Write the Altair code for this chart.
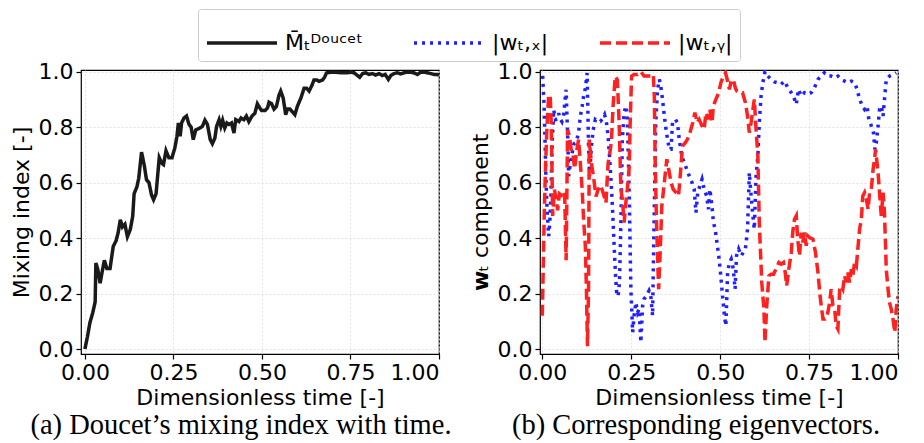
import altair as alt
import pandas as pd

# ---------------- data ----------------
t_doucet = [0.0, 0.0075, 0.014, 0.022, 0.029, 0.031, 0.036, 0.043, 0.049, 0.055, 0.062, 0.071,
            0.080, 0.088, 0.094, 0.100, 0.106, 0.113, 0.120, 0.128, 0.135, 0.139, 0.147, 0.152,
            0.160, 0.168, 0.174, 0.181, 0.188, 0.194, 0.201, 0.210, 0.217, 0.222, 0.229, 0.237,
            0.246, 0.254, 0.260, 0.264, 0.269, 0.273, 0.280, 0.287, 0.294, 0.300, 0.306, 0.313,
            0.325, 0.332, 0.339, 0.346, 0.354, 0.360, 0.367, 0.372, 0.379, 0.384, 0.389, 0.395,
            0.401, 0.407, 0.414, 0.421, 0.426, 0.435, 0.441, 0.449, 0.456, 0.463, 0.472, 0.480,
            0.487, 0.494, 0.499, 0.509, 0.516, 0.520, 0.527, 0.534, 0.541, 0.548, 0.553, 0.560,
            0.567, 0.572, 0.579, 0.586, 0.593, 0.600, 0.610, 0.619, 0.626, 0.633, 0.641, 0.647,
            0.655, 0.661, 0.671, 0.677, 0.682, 0.694, 0.708, 0.723, 0.732, 0.741, 0.751, 0.760,
            0.769, 0.776, 0.784, 0.793, 0.802, 0.812, 0.821, 0.831, 0.840, 0.848, 0.857, 0.864,
            0.873, 0.882, 0.892, 0.901, 0.910, 0.920, 0.929, 0.939, 0.948, 0.958, 0.967, 0.977,
            0.986, 0.995, 1.0]
m_doucet = [0.0, 0.046, 0.094, 0.13, 0.17, 0.31, 0.29, 0.237, 0.28, 0.32, 0.29, 0.29,
            0.37, 0.39, 0.42, 0.466, 0.44, 0.45, 0.405, 0.43, 0.478, 0.56, 0.585, 0.615,
            0.71, 0.66, 0.61, 0.60, 0.556, 0.538, 0.56, 0.69, 0.67, 0.665, 0.715, 0.69,
            0.69, 0.725, 0.767, 0.815, 0.767, 0.815, 0.833, 0.84, 0.81, 0.80, 0.755, 0.79,
            0.797, 0.803, 0.825, 0.81, 0.755, 0.74, 0.76, 0.803, 0.827, 0.803, 0.825, 0.797,
            0.815, 0.81, 0.815, 0.779, 0.827, 0.82, 0.833, 0.827, 0.84, 0.82, 0.84, 0.85,
            0.884, 0.869, 0.86, 0.86, 0.87, 0.89, 0.885, 0.865, 0.875, 0.915, 0.93, 0.905,
            0.845, 0.865, 0.865, 0.855, 0.845, 0.875, 0.905, 0.94, 0.94, 0.93, 0.95, 0.97,
            0.97, 0.965, 0.97, 0.98, 0.995, 0.998, 0.998, 0.996, 0.996, 0.996, 0.998, 0.996,
            0.987, 0.98, 0.993, 0.996, 0.99, 0.993, 0.988, 0.993, 0.986, 0.99, 0.972, 0.986,
            0.993, 0.996, 0.992, 0.996, 0.998, 0.998, 0.996, 0.99, 0.998, 0.998, 0.996, 0.993,
            0.99, 0.99, 0.987]

t_wx = [0.001, 0.005, 0.008, 0.010, 0.013, 0.016, 0.018, 0.021, 0.024, 0.028, 0.032, 0.037,
        0.042, 0.046, 0.050, 0.055, 0.060, 0.064, 0.067, 0.069, 0.072, 0.074, 0.079, 0.084,
        0.089, 0.093, 0.098, 0.102, 0.107, 0.112, 0.116, 0.121, 0.126, 0.130, 0.133, 0.138,
        0.143, 0.149, 0.156, 0.163, 0.169, 0.175, 0.180, 0.185, 0.189, 0.194, 0.198, 0.202,
        0.206, 0.209, 0.213, 0.217, 0.221, 0.225, 0.230, 0.235, 0.239, 0.244, 0.249, 0.254,
        0.258, 0.263, 0.268, 0.272, 0.277, 0.282, 0.286, 0.293, 0.300, 0.305, 0.310, 0.315,
        0.319, 0.324, 0.329, 0.333, 0.338, 0.343, 0.349, 0.357, 0.362, 0.366, 0.374, 0.380,
        0.385, 0.392, 0.399, 0.406, 0.413, 0.421, 0.427, 0.432, 0.437, 0.443, 0.449, 0.455,
        0.462, 0.467, 0.471, 0.477, 0.481, 0.486, 0.491, 0.496, 0.500, 0.505, 0.512, 0.516,
        0.521, 0.526, 0.531, 0.537, 0.542, 0.546, 0.552, 0.559, 0.565, 0.571, 0.577, 0.582,
        0.587, 0.592, 0.596, 0.601, 0.606, 0.610, 0.615, 0.620, 0.626, 0.634, 0.643, 0.653,
        0.662, 0.671, 0.681, 0.690, 0.700, 0.706, 0.714, 0.720, 0.728, 0.737, 0.746, 0.756,
        0.765, 0.775, 0.784, 0.793, 0.803, 0.812, 0.822, 0.831, 0.840, 0.850, 0.859, 0.869,
        0.878, 0.885, 0.892, 0.900, 0.906, 0.913, 0.918, 0.922, 0.928, 0.931, 0.935, 0.939,
        0.944, 0.948, 0.953, 0.958, 0.962, 0.967, 0.976, 0.986, 0.995]
wx = [0.985, 0.88, 0.73, 0.62, 0.515, 0.443, 0.407, 0.455, 0.55, 0.75, 0.863, 0.827,
      0.83, 0.85, 0.83, 0.82, 0.845, 0.90, 0.935, 0.85, 0.743, 0.623, 0.67, 0.707,
      0.74, 0.743, 0.76, 0.78, 0.84, 0.875, 0.91, 0.94, 0.995, 0.73, 0.623, 0.73,
      0.79, 0.827, 0.82, 0.82, 0.83, 0.845, 0.82, 0.767, 0.695, 0.59, 0.49, 0.37,
      0.263, 0.203, 0.19, 0.24, 0.456, 0.756, 0.852, 0.876, 0.84, 0.576, 0.216, 0.06,
      0.12, 0.168, 0.132, 0.144, 0.024, 0.156, 0.18, 0.192, 0.21, 0.192, 0.12, 0.516,
      0.816, 0.936, 0.972, 0.948, 0.90, 0.84, 0.78, 0.72, 0.72, 0.816, 0.828, 0.816,
      0.756, 0.696, 0.672, 0.648, 0.624, 0.60, 0.576, 0.492, 0.564, 0.588, 0.612, 0.576,
      0.552, 0.504, 0.576, 0.516, 0.456, 0.432, 0.384, 0.336, 0.288, 0.216, 0.12, 0.084,
      0.276, 0.312, 0.324, 0.288, 0.216, 0.336, 0.36, 0.336, 0.348, 0.36, 0.432, 0.636,
      0.552, 0.48, 0.432, 0.624, 0.696, 0.816, 0.912, 0.96, 1.0, 0.984, 0.972, 0.963,
      0.96, 0.954, 0.966, 0.942, 0.924, 0.912, 0.882, 0.936, 0.912, 0.924, 0.918, 0.924,
      0.942, 0.972, 0.984, 0.996, 0.984, 0.984, 0.978, 0.984, 0.972, 0.966, 0.96, 0.966,
      0.96, 0.936, 0.90, 0.876, 0.864, 0.876, 0.828, 0.816, 0.792, 0.78, 0.72, 0.744,
      0.804, 0.864, 0.876, 0.84, 0.90, 0.972, 0.984, 0.99, 0.996]

t_wy = [0.0, 0.005, 0.0085, 0.013, 0.018, 0.0225, 0.025, 0.027, 0.029, 0.034, 0.039, 0.043,
        0.048, 0.053, 0.057, 0.063, 0.067, 0.071, 0.076, 0.081, 0.086, 0.091, 0.096, 0.102,
        0.107, 0.112, 0.116, 0.121, 0.124, 0.127, 0.130, 0.132, 0.138, 0.144, 0.151, 0.157,
        0.163, 0.168, 0.174, 0.179, 0.185, 0.189, 0.194, 0.199, 0.205, 0.211, 0.216, 0.221,
        0.225, 0.230, 0.235, 0.239, 0.244, 0.247, 0.251, 0.258, 0.268, 0.277, 0.286, 0.296,
        0.305, 0.312, 0.315, 0.317, 0.321, 0.327, 0.331, 0.336, 0.341, 0.346, 0.350, 0.357,
        0.362, 0.368, 0.376, 0.383, 0.390, 0.394, 0.402, 0.408, 0.415, 0.423, 0.429, 0.435,
        0.441, 0.449, 0.455, 0.460, 0.467, 0.471, 0.477, 0.481, 0.488, 0.496, 0.502, 0.509,
        0.515, 0.521, 0.526, 0.531, 0.537, 0.543, 0.547, 0.554, 0.563, 0.571, 0.577, 0.582,
        0.587, 0.592, 0.596, 0.601, 0.606, 0.610, 0.617, 0.623, 0.626, 0.631, 0.637, 0.643,
        0.650, 0.657, 0.665, 0.671, 0.678, 0.683, 0.687, 0.693, 0.700, 0.704, 0.709, 0.714,
        0.718, 0.723, 0.728, 0.732, 0.737, 0.742, 0.746, 0.751, 0.761, 0.768, 0.775, 0.781,
        0.789, 0.795, 0.801, 0.808, 0.812, 0.817, 0.822, 0.826, 0.831, 0.836, 0.840, 0.845,
        0.850, 0.854, 0.859, 0.864, 0.869, 0.873, 0.878, 0.883, 0.887, 0.892, 0.897, 0.901,
        0.906, 0.911, 0.916, 0.920, 0.925, 0.930, 0.934, 0.937, 0.941, 0.944, 0.948, 0.953,
        0.958, 0.962, 0.967, 0.972, 0.976, 0.981, 0.986, 0.991, 0.995, 1.0]
wy = [0.12, 0.456, 0.635, 0.80, 0.917, 0.905, 0.815, 0.67, 0.48, 0.575, 0.54, 0.50,
      0.56, 0.555, 0.57, 0.55, 0.32, 0.79, 0.77, 0.72, 0.70, 0.65, 0.71, 0.755,
      0.67, 0.575, 0.467, 0.37, 0.216, 0.01, 0.216, 0.755, 0.67, 0.62, 0.55, 0.575,
      0.59, 0.575, 0.55, 0.527, 0.67, 0.70, 0.745, 0.876, 0.983, 0.97, 0.816, 0.576,
      0.54, 0.456, 0.53, 0.576, 0.65, 0.816, 0.984, 0.99, 0.99, 1.0, 0.984, 0.984,
      0.984, 0.99, 0.91, 0.70, 0.456, 0.216, 0.336, 0.516, 0.576, 0.636, 0.684, 0.636,
      0.60, 0.576, 0.564, 0.552, 0.66, 0.732, 0.744, 0.756, 0.78, 0.816, 0.852, 0.816,
      0.828, 0.804, 0.792, 0.852, 0.828, 0.864, 0.816, 0.876, 0.90, 0.924, 0.96, 0.984,
      0.996, 0.966, 0.936, 0.966, 0.972, 0.94, 0.93, 0.924, 0.924, 0.888, 0.84, 0.78,
      0.816, 0.864, 0.90, 0.79, 0.696, 0.456, 0.24, 0.144, 0.024, 0.156, 0.264, 0.27,
      0.27, 0.288, 0.312, 0.306, 0.312, 0.276, 0.228, 0.288, 0.348, 0.42, 0.468, 0.48,
      0.396, 0.336, 0.42, 0.384, 0.42, 0.372, 0.408, 0.402, 0.396, 0.348, 0.276, 0.19,
      0.108, 0.108, 0.12, 0.168, 0.216, 0.156, 0.144, 0.084, 0.072, 0.216, 0.228, 0.216,
      0.264, 0.24, 0.276, 0.24, 0.288, 0.264, 0.312, 0.30, 0.36, 0.432, 0.468, 0.552,
      0.564, 0.54, 0.504, 0.564, 0.576, 0.648, 0.684, 0.72, 0.672, 0.636, 0.564, 0.48,
      0.564, 0.492, 0.288, 0.216, 0.168, 0.144, 0.108, 0.06, 0.144, 0.19]

series_names = ["M\u0304\u209c\u1d30\u1d52\u1d58\u1d9c\u1d49\u1d57",
                "|w\u209c,\u2093|",
                "|w\u209c,\u1d67|"]
series_colors = ["#1a1a1a", "#1f1fff", "#ff2020"]
series_dashes = [[1, 0], [3, 5], [11, 5]]

# ---------------- tables ----------------
df_m = pd.DataFrame({"t": t_doucet, "v": m_doucet, "s": series_names[0]})
df_x = pd.DataFrame({"t": t_wx, "v": wx, "s": series_names[1]})
df_y = pd.DataFrame({"t": t_wy, "v": wy, "s": series_names[2]})

FONT = "DejaVu Sans"
FS = 22


def legend():
    return alt.Legend(
        title=None, orient="none", direction="horizontal",
        legendX=117, legendY=-61,
        symbolType="M-1,0H1.8", symbolSize=2500, symbolStrokeWidth=3.5,
        labelFont=FONT, labelFontSize=FS, labelColor="black", labelOffset=26,
        columnPadding=44, padding=7,
        strokeColor="#cccccc", fillColor="white", cornerRadius=3,
    )


color_enc = alt.Color("s:N", scale=alt.Scale(domain=series_names, range=series_colors),
                      legend=legend())
dash_enc = alt.StrokeDash("s:N", scale=alt.Scale(domain=series_names, range=series_dashes),
                          legend=legend())

y_vals = [0.0, 0.2, 0.4, 0.6, 0.8, 1.0]
x_vals = [0.0, 0.25, 0.5, 0.75, 1.0]


def x_enc(dom):
    return alt.X("t:Q", scale=alt.Scale(domain=dom, nice=False, zero=False),
                 axis=alt.Axis(values=x_vals, format=".2f", title="Dimensionless time [-]"))


def y_enc(title):
    return alt.Y("v:Q", scale=alt.Scale(domain=[-0.018, 1.006], nice=False, zero=False),
                 axis=alt.Axis(values=y_vals, format=".1f", title=title))


def caption(text, dx):
    return alt.TitleParams(text=text, orient="bottom", anchor="middle", frame="group",
                           font="Liberation Serif", fontSize=28.5, fontWeight="normal",
                           color="black", offset=3, dx=dx)


W, H = 358, 284

left = alt.Chart(df_m).mark_line(strokeWidth=3.5, clip=True).encode(
    x=x_enc([-0.011, 1.0]), y=y_enc("Mixing index [-]"),
    color=color_enc, strokeDash=dash_enc, order="t:Q",
).properties(width=W, height=H, title=caption("(a) Doucet\u2019s mixing index with time.", -19))

line_x = alt.Chart(df_x).mark_line(strokeWidth=3.5, clip=True).encode(
    x=x_enc([-0.0065, 1.0]), y=y_enc("\U0001D604\u209c component"),
    color=color_enc, strokeDash=dash_enc, order="t:Q",
)
line_y = alt.Chart(df_y).mark_line(strokeWidth=3.5, clip=True).encode(
    x=x_enc([-0.0065, 1.0]), y=y_enc("\U0001D604\u209c component"),
    color=color_enc, strokeDash=dash_enc, order="t:Q",
)
right = alt.layer(line_x, line_y).properties(
    width=W, height=H, title=caption("(b) Corresponding eigenvectors.", -23))

chart = alt.hconcat(left, right, spacing=15).resolve_scale(
    color="shared", strokeDash="shared"
).properties(
    padding={"left": 1, "top": 0, "right": 4, "bottom": 0}
).configure_view(
    stroke="black", strokeWidth=1.2
).configure_axis(
    labelFont=FONT, labelFontSize=FS, labelColor="black",
    titleFont=FONT, titleFontSize=FS, titleFontWeight="normal", titleColor="black",
    domain=False, ticks=True, tickColor="black", tickSize=5, tickWidth=1.2,
    labelPadding=3, titlePadding=4,
    grid=True, gridColor="#dcdcdc", gridDash=[2, 2], gridWidth=0.8,
).configure_axisY(titlePadding=5)

chart.save("out.html", embed_options={"renderer": "svg", "actions": False})
